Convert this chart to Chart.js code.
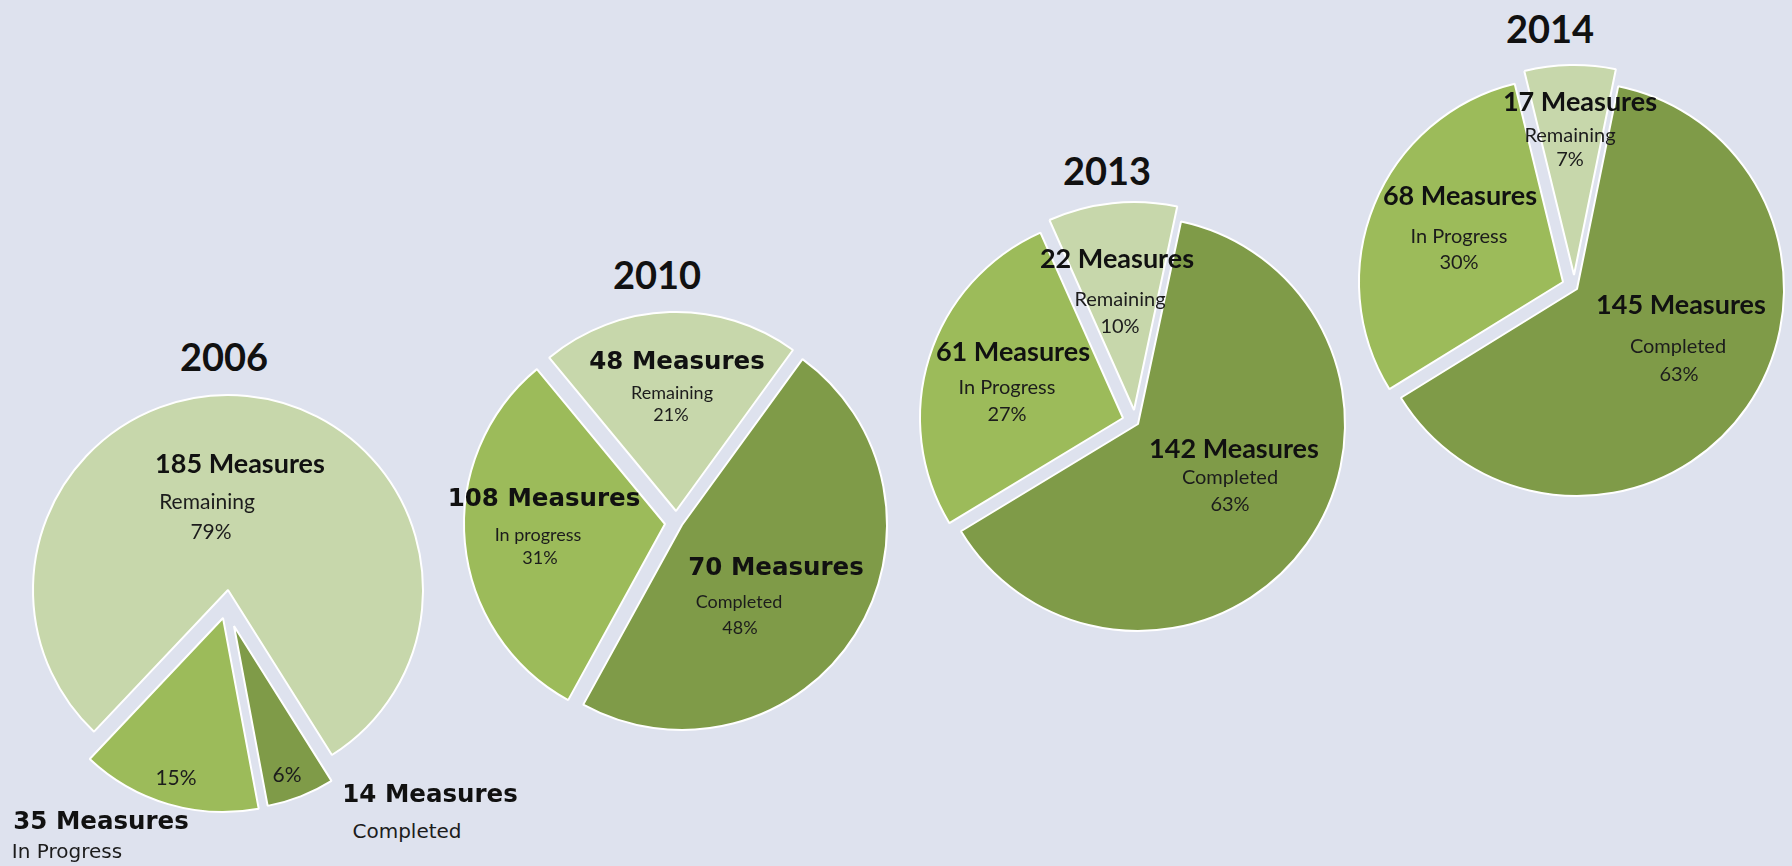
<!DOCTYPE html>
<html>
<head>
<meta charset="utf-8">
<script src="https://cdn.jsdelivr.net/npm/chart.js@4.4.1/dist/chart.umd.min.js"></script>
<style>
  html, body { margin: 0; padding: 0; width: 1792px; height: 866px; overflow: hidden; background: #dee2ee; }
  canvas.pie { position: absolute; }
  .lbl { position: absolute; transform: translate(-50%, -50%); white-space: nowrap; line-height: 1; color: #1c1c1c; }
  .year { font: bold 38px Lato; color: #111; }
  .cb { font: bold 27px Lato; color: #111; }
  .gb { font: bold 24.5px "DejaVu Sans"; color: #111; }
  .g { font: 20px "DejaVu Sans"; }
  .s21 { font: 21px Lato; }
  .s20 { font: 20px Lato; }
  .s18 { font: 18px Lato; }
</style>
</head>
<body>
<script>
'use strict';

// data
const years = ['2006', '2010', '2013', '2014'];
const categories = ['Completed', 'In Progress', 'Remaining'];
const inProgressText = ['In Progress', 'In progress', 'In Progress', 'In Progress'];
const completedPct = [6, 48, 63, 63];
const inProgressPct = [15, 31, 27, 30];
const remainingPct = [79, 21, 10, 7];
const completedCount = [14, 70, 142, 145];
const inProgressCount = [35, 108, 61, 68];
const remainingCount = [185, 48, 22, 17];

const colors = ['#7f9b48', '#9cbb5a', '#c7d7ab'];

// exploded pies: every slice is drawn on its own layer, so each one
// gets its own centre and radius  -> [x, y, r] for completed, in progress, remaining
const sliceLayout = [
  [[234, 626, 183], [223, 618, 194], [228, 590, 195]],
  [[682, 525, 205], [665, 524, 201], [676, 511, 199]],
  [[1138, 424, 207], [1123, 418, 203], [1134, 410, 208]],
  [[1577, 289, 207], [1563, 282, 204], [1574, 275, 210]]
];
const rotations = [147.8, 36, 12, 11.5];
const titlePos = [[224, 356], [657, 274], [1107, 170], [1550, 28]];

// [year, category, field, x, y, style]
const labelLayout = [
  [0, 2, 'count', 240, 462, 'cb'],
  [0, 2, 'name', 207, 500, 's21'],
  [0, 2, 'pct', 211, 530, 's21'],
  [0, 1, 'pct', 176, 776, 's21'],
  [0, 0, 'pct', 287, 773, 's21'],
  [0, 0, 'count', 430, 793, 'gb'],
  [0, 0, 'name', 407, 831, 'g'],
  [0, 1, 'count', 101, 820, 'gb'],
  [0, 1, 'name', 67, 851, 'g'],

  [1, 2, 'count', 677, 360, 'gb'],
  [1, 2, 'name', 672, 392, 's18'],
  [1, 2, 'pct', 671, 414, 's18'],
  [1, 1, 'count', 544, 497, 'gb'],
  [1, 1, 'name', 538, 534, 's18'],
  [1, 1, 'pct', 540, 557, 's18'],
  [1, 0, 'count', 776, 566, 'gb'],
  [1, 0, 'name', 739, 601, 's18'],
  [1, 0, 'pct', 740, 627, 's18'],

  [2, 2, 'count', 1117, 257, 'cb'],
  [2, 2, 'name', 1120, 298, 's20'],
  [2, 2, 'pct', 1120, 325, 's20'],
  [2, 1, 'count', 1013, 350, 'cb'],
  [2, 1, 'name', 1007, 386, 's20'],
  [2, 1, 'pct', 1007, 413, 's20'],
  [2, 0, 'count', 1234, 447, 'cb'],
  [2, 0, 'name', 1230, 476, 's20'],
  [2, 0, 'pct', 1230, 503, 's20'],

  [3, 2, 'count', 1580, 100, 'cb'],
  [3, 2, 'name', 1570, 134, 's20'],
  [3, 2, 'pct', 1570, 158, 's20'],
  [3, 1, 'count', 1460, 194, 'cb'],
  [3, 1, 'name', 1459, 235, 's20'],
  [3, 1, 'pct', 1459, 261, 's20'],
  [3, 0, 'count', 1681, 303, 'cb'],
  [3, 0, 'name', 1678, 345, 's20'],
  [3, 0, 'pct', 1679, 373, 's20']
];

function addText(text, x, y, cls) {
  let el = document.createElement('div');
  el.className = 'lbl ' + cls;
  el.textContent = text;
  el.style.left = x + 'px';
  el.style.top = y + 'px';
  document.body.appendChild(el);
}

// one layer = the whole pie, with only slice k painted
function drawSlice(i, k) {
  let [x, y, r] = sliceLayout[i][k];
  let half = r + 6;
  let canvasEl = document.createElement('canvas');
  canvasEl.className = 'pie';
  canvasEl.width = half * 2;
  canvasEl.height = half * 2;
  canvasEl.style.left = (x - half) + 'px';
  canvasEl.style.top = (y - half) + 'px';
  document.body.appendChild(canvasEl);

  return new Chart(canvasEl, {
    type: 'pie',
    data: {
      labels: categories,
      datasets: [{
        data: [completedPct[i], inProgressPct[i], remainingPct[i]],
        backgroundColor: colors.map((c, j) => j === k ? c : 'rgba(0,0,0,0)'),
        borderColor: '#ffffff',
        borderWidth: colors.map((c, j) => j === k ? 2 : 0)
      }]
    },
    options: {
      responsive: false,
      animation: false,
      events: [],
      radius: r,
      rotation: rotations[i],
      layout: { padding: 0 },
      plugins: {
        legend: { display: false },
        tooltip: { enabled: false }
      }
    }
  });
}

years.forEach((year, i) => {
  [2, 1, 0].forEach(k => drawSlice(i, k));
  addText(year, titlePos[i][0], titlePos[i][1], 'year');
});

labelLayout.forEach(([yi, ci, field, x, y, cls]) => {
  let counts = [completedCount, inProgressCount, remainingCount][ci];
  let pcts = [completedPct, inProgressPct, remainingPct][ci];
  let text;
  if (field === 'count') {
    text = counts[yi] + ' Measures';
  } else if (field === 'pct') {
    text = pcts[yi] + '%';
  } else {
    text = ci === 1 ? inProgressText[yi] : categories[ci];
  }
  addText(text, x, y, cls);
});
</script>
</body>
</html>
